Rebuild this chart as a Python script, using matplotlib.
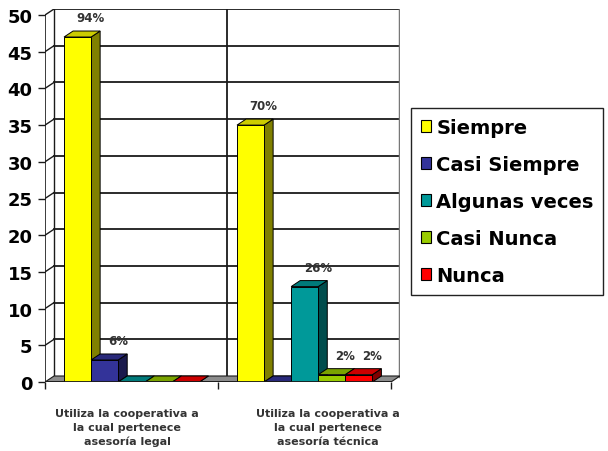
import matplotlib
matplotlib.use('Agg')
import matplotlib.pyplot as plt
from matplotlib.patches import Rectangle, Polygon, Patch

categories = ['Utiliza la cooperativa a\nla cual pertenece\nasesoría legal',
              'Utiliza la cooperativa a\nla cual pertenece\nasesoría técnica']
series = ['Siempre', 'Casi Siempre', 'Algunas veces', 'Casi Nunca', 'Nunca']
siempre = [47, 35]
casi_siempre = [3, 0]
algunas_veces = [0, 13]
casi_nunca = [0, 1]
nunca = [0, 1]
n_total = 50

values = [siempre, casi_siempre, algunas_veces, casi_nunca, nunca]
# front, top, side colours for each series
front_c = ['#FFFF00', '#333399', '#009999', '#99CC00', '#FF0000']
top_c = ['#CCCC00', '#29297A', '#007A7A', '#7AA300', '#CC0000']
side_c = ['#808000', '#1A1A4D', '#004D4D', '#4D6600', '#800000']

plt.rcParams['font.family'] = 'DejaVu Sans'
plt.rcParams['font.weight'] = 'bold'

W, H = 608, 452
fig = plt.figure(figsize=(W / 100, H / 100), dpi=100)
# axes in pixels: front plane x 45..390, y 383 (0) .. 16 (50); back wall to x 400, y 10
ax = fig.add_axes([45 / W, (H - 383) / H, 355 / W, 373 / H])

dx = 9 / 172.5     # depth offset, x data units
dy = 6 / 7.34      # depth offset, y data units
ax.set_xlim(0, 2 + dx)
ax.set_ylim(0, 50 + dy)
for s in ax.spines.values():
    s.set_visible(False)

lc = '#1a1a1a'
# back wall + side wall + gridlines
yt = list(range(0, 55, 5))
for v in yt[1:]:
    ax.plot([dx, 2 + dx], [v + dy, v + dy], color=lc, lw=1.3, zorder=1)
    ax.plot([0, dx], [v, v + dy], color=lc, lw=1, zorder=1)
ax.plot([dx, dx], [dy, 50 + dy], color=lc, lw=1, zorder=1)
ax.plot([1 + dx, 1 + dx], [dy, 50 + dy], color=lc, lw=1.3, zorder=1)
ax.plot([2 + dx, 2 + dx], [dy, 50 + dy], color='#777777', lw=2.5, zorder=1)
ax.plot([0, 0], [0, 50], color=lc, lw=1.2, zorder=1)

# floor
ax.add_patch(Polygon([(0, 0), (2, 0), (2 + dx, dy), (dx, dy)], closed=True,
                     fc='#8c8c8c', ec=lc, lw=0.8, zorder=2))
ax.plot([0, 2], [0, 0], color=lc, lw=1.3, zorder=30)

bw = 0.1565
start = 0.11
z = 3
for ci in range(len(categories)):
    for si in range(len(series)):
        h = values[si][ci]
        x = ci + start + si * bw
        ax.add_patch(Polygon([(x + bw, 0), (x + bw + dx, dy), (x + bw + dx, h + dy), (x + bw, h)],
                             closed=True, fc=side_c[si], ec='k', lw=0.7, zorder=z))
        ax.add_patch(Polygon([(x, h), (x + bw, h), (x + bw + dx, h + dy), (x + dx, h + dy)],
                             closed=True, fc=top_c[si], ec='k', lw=0.7, zorder=z))
        if h > 0:
            ax.add_patch(Rectangle((x, 0), bw, h, fc=front_c[si], ec='k', lw=0.7, zorder=z))
            ax.annotate(f'{round(h / n_total * 100)}%', (x + bw / 2 + dx, h + dy),
                        xytext=(3, 5), textcoords='offset points', ha='center', va='bottom',
                        fontsize=8.5, fontweight='bold', color='#333333', zorder=40)
        z += 1

# y axis ticks
ax.set_yticks(yt)
ax.set_yticklabels([str(v) for v in yt], fontsize=13, fontweight='bold')
ax.tick_params(axis='y', length=5, width=1, pad=4, color=lc)

# x axis: separator ticks and category labels
ax.set_xticks([0, 1, 2], minor=True)
ax.tick_params(axis='x', which='minor', length=5, width=1, color=lc)
ax.set_xticks([0.475, 1.635])
ax.set_xticklabels(categories, fontsize=8, fontweight='bold', color='#333333', linespacing=1.45)
ax.tick_params(axis='x', which='major', length=0, pad=19)

handles = [Patch(fc=front_c[i], ec='k', lw=0.8, label=series[i]) for i in range(len(series))]
leg = fig.legend(handles=handles, loc='upper left', bbox_to_anchor=(411 / W, 1 - 109 / H),
                 borderaxespad=0, prop={'weight': 'bold', 'size': 14},
                 handlelength=0.55, handleheight=0.55, handletextpad=0.25,
                 labelspacing=0.93, borderpad=0.5, fancybox=False, framealpha=1)
leg.get_frame().set_edgecolor('#222222')
leg.get_frame().set_linewidth(1)

fig.savefig('out.png', dpi=100)
